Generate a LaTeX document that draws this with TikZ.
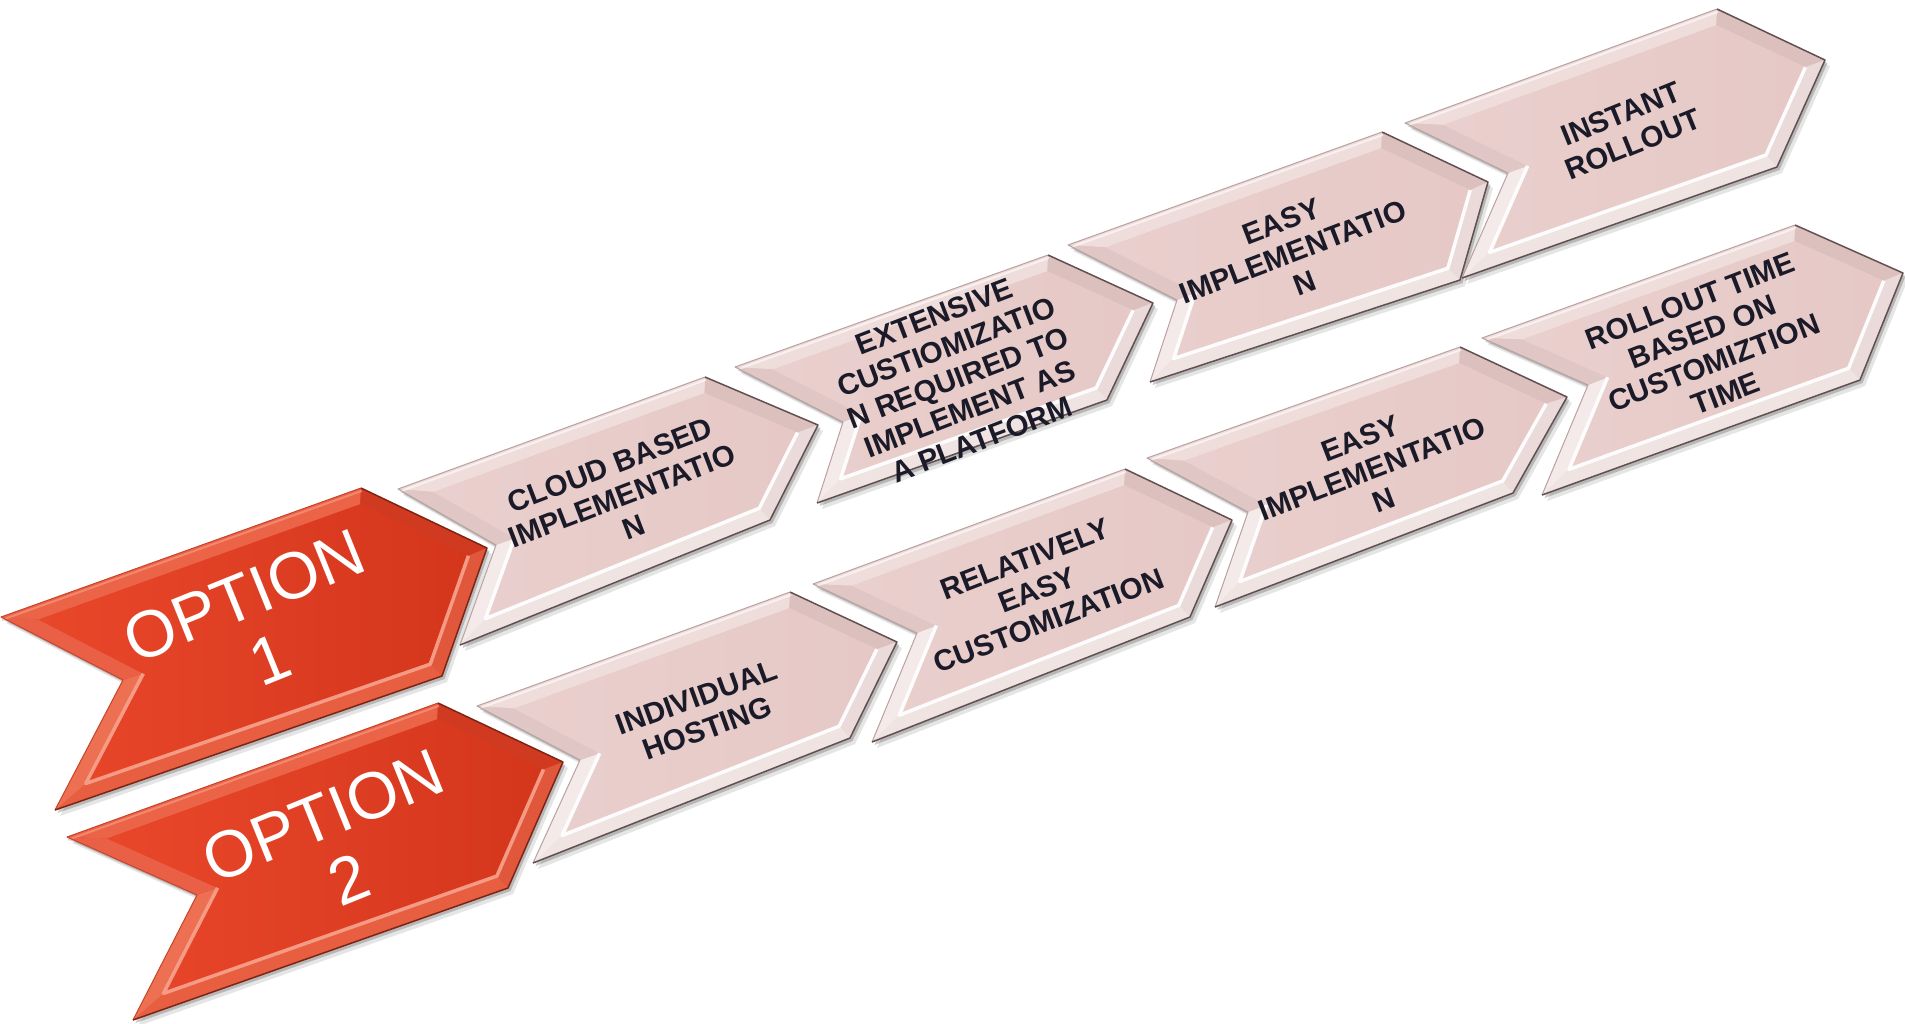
\documentclass[tikz,border=0pt]{standalone}
\usepackage{fontspec}
\setmainfont{Liberation Sans}
\usetikzlibrary{calc}
% pink palette
\definecolor{pinkbase}{HTML}{E6D0CE}
\definecolor{pinkfaceL}{HTML}{E9CFCD}
\definecolor{pinkfaceR}{HTML}{E6C9C7}
\definecolor{pinktop}{HTML}{EFDDDB}
\definecolor{pinkur}{HTML}{DCC0BE}
\definecolor{pinklr}{HTML}{EADAD9}
\definecolor{pinkbot}{HTML}{F0E4E3}
\definecolor{pinknl}{HTML}{F4EAE9}
\definecolor{pinknu}{HTML}{E0C6C4}
\definecolor{pinkhi}{HTML}{FFFFFF}
\definecolor{pinkdark}{HTML}{624F4F}
\definecolor{pinklite}{HTML}{B9A2A0}
% red palette
\definecolor{redbase}{HTML}{E0462A}
\definecolor{redfaceL}{HTML}{E9472A}
\definecolor{redfaceR}{HTML}{D4361C}
\definecolor{redtop}{HTML}{EC6447}
\definecolor{redur}{HTML}{D03A20}
\definecolor{redlr}{HTML}{E1573B}
\definecolor{redbot}{HTML}{E85E41}
\definecolor{rednl}{HTML}{EE7053}
\definecolor{rednu}{HTML}{E96046}
\definecolor{redhi}{HTML}{F6A08A}
\definecolor{reddark}{HTML}{7E2414}
\definecolor{redlite}{HTML}{C8442A}
\definecolor{labeltext}{HTML}{1A1A28}
\newcommand\chevint[5]{\pgfcoordinate{#1}{\pgfpointintersectionoflines{\pgfpointanchor{#2}{center}}{\pgfpointanchor{#3}{center}}{\pgfpointanchor{#4}{center}}{\pgfpointanchor{#5}{center}}}}
\newcommand\chev[8]{%
\path (#2) coordinate (#1a) (#3) coordinate (#1b) (#4) coordinate (#1c)
      (#5) coordinate (#1d) (#6) coordinate (#1e) (#7) coordinate (#1f);
\path ($(#1a)!6pt!-90:(#1b)$) coordinate (#1p1) ($(#1b)!6pt!90:(#1a)$) coordinate (#1q1)
      ($(#1b)!6pt!-90:(#1c)$) coordinate (#1p2) ($(#1c)!6pt!90:(#1b)$) coordinate (#1q2)
      ($(#1c)!6pt!-90:(#1d)$) coordinate (#1p3) ($(#1d)!6pt!90:(#1c)$) coordinate (#1q3)
      ($(#1d)!6pt!-90:(#1e)$) coordinate (#1p4) ($(#1e)!6pt!90:(#1d)$) coordinate (#1q4)
      ($(#1e)!6pt!-90:(#1f)$) coordinate (#1p5) ($(#1f)!6pt!90:(#1e)$) coordinate (#1q5)
      ($(#1f)!6pt!-90:(#1a)$) coordinate (#1p6) ($(#1a)!6pt!90:(#1f)$) coordinate (#1q6);
\chevint{#1A}{#1p6}{#1q6}{#1p1}{#1q1}%
\chevint{#1B}{#1p1}{#1q1}{#1p2}{#1q2}%
\chevint{#1C}{#1p2}{#1q2}{#1p3}{#1q3}%
\chevint{#1D}{#1p3}{#1q3}{#1p4}{#1q4}%
\chevint{#1E}{#1p4}{#1q4}{#1p5}{#1q5}%
\chevint{#1F}{#1p5}{#1q5}{#1p6}{#1q6}%
\fill[black,opacity=0.10,transform canvas={shift={(2pt,-2.4pt)}}] (#1a)--(#1b)--(#1c)--(#1d)--(#1e)--(#1f)--cycle;
\fill[black,opacity=0.20,transform canvas={shift={(1pt,-1.2pt)}}] (#1a)--(#1b)--(#1c)--(#1d)--(#1e)--(#1f)--cycle;
\fill[#8base] (#1a)--(#1b)--(#1c)--(#1d)--(#1e)--(#1f)--cycle;
\fill[#8top] (#1a)--(#1b)--(#1B)--(#1A)--cycle;
\fill[#8ur] (#1b)--(#1c)--(#1C)--(#1B)--cycle;
\fill[#8lr] (#1c)--(#1d)--(#1D)--(#1C)--cycle;
\fill[#8bot] (#1d)--(#1e)--(#1E)--(#1D)--cycle;
\fill[#8nl] (#1e)--(#1f)--(#1F)--(#1E)--cycle;
\fill[#8nu] (#1f)--(#1a)--(#1A)--(#1F)--cycle;
\shade[left color=#8faceL,right color=#8faceR] (#1A)--(#1B)--(#1C)--(#1D)--(#1E)--(#1F)--cycle;
\draw[#8hi,line width=1.4pt,line join=round,opacity=0.95] (#1C)--(#1D)--(#1E)--(#1F);
\draw[#8hi,line width=0.8pt,opacity=0.6] ($(#1a)!0.2!(#1p1)$)--($(#1b)!0.2!(#1q1)$);
\draw[#8lite,line width=0.4pt,line join=round] (#1e)--(#1f)--(#1a)--(#1b);
\draw[#8dark,line width=0.6pt,line join=round] (#1b)--(#1c)--(#1d)--(#1e);
}
\begin{document}
\begin{tikzpicture}[x=0.4pt,y=-0.4pt,
  pinklabel/.style={text=labeltext,font=\bfseries\fontsize{11.8}{13.2}\selectfont,align=center,inner sep=0pt},
  optlabel/.style={text=white,font=\fontsize{26.4}{27.4}\selectfont,align=center,inner sep=0pt}]
\useasboundingbox (0,0) rectangle (1905,1023);
% row 1
\chev{s1}{1,617}{361,488}{487,548}{442,676}{55,810}{123,680}{red}
\chev{s2}{398,489}{705,377}{818,425}{770,520}{460,645}{496,545}{pink}
\chev{s3}{735,367}{1048,255}{1153,303}{1107,400}{817,503}{843,422}{pink}
\chev{s4}{1068,245}{1382,132}{1488,182}{1460,280}{1150,382}{1177,300}{pink}
\chev{s5}{1405,123}{1717,9}{1825,60}{1777,167}{1462,278}{1508,173}{pink}
% row 2
\chev{s6}{67,837}{438,703}{563,762}{508,888}{133,1020}{197,895}{red}
\chev{s7}{477,706}{790,592}{897,642}{850,738}{533,863}{580,760}{pink}
\chev{s8}{813,584}{1125,469}{1232,520}{1190,617}{872,742}{917,633}{pink}
\chev{s9}{1147,458}{1460,347}{1567,397}{1513,493}{1215,607}{1248,512}{pink}
\chev{s10}{1482,338}{1795,225}{1903,273}{1860,380}{1542,495}{1588,385}{pink}
% labels
\node[optlabel,rotate=22] (t1) at (257,627) {OPTION\\1};
\node[optlabel,rotate=22] (t6) at (336,847) {OPTION\\2};
\node[pinklabel,rotate=21] (t2) at (622,496) {CLOUD BASED\\IMPLEMENTATIO\\N};
\node[pinklabel,rotate=21] (t3) at (958,378) {EXTENSIVE\\CUSTIOMIZATIO\\N REQUIRED TO\\IMPLEMENT AS\\A PLATFORM};
\node[pinklabel,rotate=21] (t4) at (1293,252) {EASY\\IMPLEMENTATIO\\N};
\node[pinklabel,rotate=22] (t5) at (1627,129) {INSTANT\\ROLLOUT};
\node[pinklabel,rotate=20] (t7) at (702,713) {INDIVIDUAL\\HOSTING};
\node[pinklabel,rotate=21] (t8) at (1037,590) {RELATIVELY\\EASY\\CUSTOMIZATION};
\node[pinklabel,rotate=21] (t9) at (1372,469) {EASY\\IMPLEMENTATIO\\N};
\node[pinklabel,rotate=21] (t10) at (1708,347) {ROLLOUT TIME\\BASED ON\\CUSTOMIZTION\\TIME};
\end{tikzpicture}
\end{document}
